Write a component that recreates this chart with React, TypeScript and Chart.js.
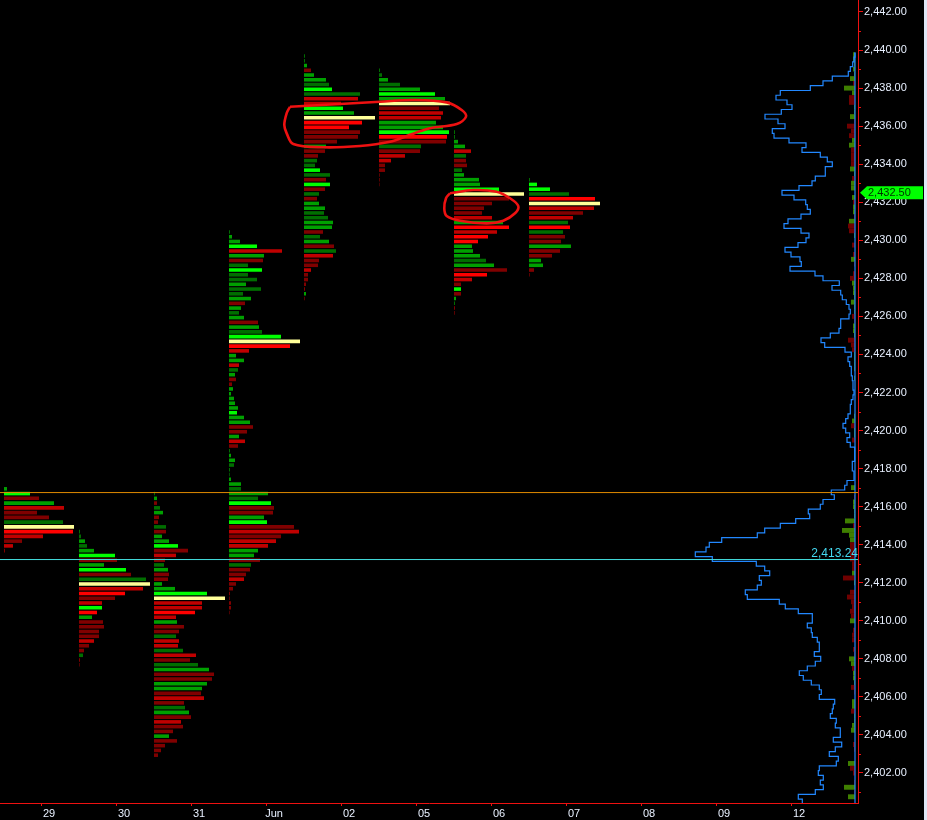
import React, { useEffect, useRef } from "react";
import { Chart, registerables } from "chart.js";

Chart.register(...registerables);

const dayLabels = ["29", "30", "31", "Jun", "02", "05", "06", "07", "08", "09", "12"];
const priceTicks = [2402, 2404, 2406, 2408, 2410, 2412, 2414, 2416, 2418, 2420, 2422, 2424, 2426, 2428, 2430, 2432, 2434, 2436, 2438, 2440, 2442];
const currentPrice = 2432.5;
const upperLevel = 2416.74;
const lowerLevel = 2413.22;
const lowerLevelLabel = "2,413.24";

// profile volumes per price row (top row first); codes: G g d = greens, R r k = reds, P = point of control
const topPrices = [2417, 2414.75, 2416.75, 2430.5, 2439.75, 2439, 2435.75, 2433.25];
const profile0 = [3, 26, 35, 50, 60, 33, 45, 59, 70, 69, 39, 18, 9, 1];
const colors0 = "gGkgrkkdPRrkrk";
const profile1 = [1, 2, 6, 8, 15, 36, 38, 25, 47, 52, 67, 71, 64, 46, 36, 23, 23, 18, 13, 24, 25, 20, 20, 15, 10, 5, 4, 1, 0.6];
const colors1 = "ddgdgGkgGkdPrRkrGRgkkkkrkkdkk";
const profile2 = [1, 3, 3, 6, 9, 5, 4, 12, 12, 8, 15, 24, 34, 22, 11, 10, 14, 15, 14, 8, 21, 53, 71, 48, 48, 41, 22, 23, 30, 25, 22, 25, 24, 29, 42, 36, 44, 55, 60, 58, 53, 48, 47, 50, 30, 31, 35, 37, 27, 29, 19, 15, 23, 11, 7, 4];
const colors2 = "dgkdgkkdkggGkrkdgkkggGPrrRrgkkdrrdrkdgkkggkrkdgkrkkgkkkk";
const profile3 = [1, 3, 11, 28, 53, 35, 34, 19, 33, 19, 28, 17, 32, 14, 22, 16, 12, 10, 15, 29, 30, 33, 52, 71, 61, 20, 7, 15, 10, 9, 6, 7, 3, 4, 2, 5, 6, 9, 8, 15, 21, 24, 18, 10, 16, 9, 1, 2, 6, 5, 1, 0.7, 2, 12, 12, 39, 29, 42, 45, 44, 35, 38, 65, 70, 52, 47, 39, 29, 25, 31, 22, 21, 17, 15, 7, 4, 1, 0.7, 2, 2, 0.6];
const colors3 = "dggGrgkdGddgddgkgdgkgdGPRrggrdgkkgggggGggkkgrkdggdddggdgdGkkgGkrkrrggkdkkrkkkkkk";
const profile4 = [1, 1, 3, 7, 10, 22, 25, 28, 56, 54, 37, 39, 50, 71, 58, 45, 56, 54, 33, 22, 21, 14, 13, 11, 16, 26, 22, 26, 21, 15, 13, 15, 21, 20, 24, 29, 28, 19, 16, 25, 30, 32, 29, 15, 14, 7, 4, 4, 2, 1, 2, 0.7];
const colors4 = "ddgkggdGdrrGgPRRkkkgkkddGdkGkdkggddggkdgkdrkkrkkkkgk";
const profile5 = [1, 3, 9, 21, 41, 56, 66, 71, 60, 64, 62, 57, 64, 70, 68, 67, 42, 41, 26, 12, 6, 6, 0.7, 0.7, 0.5];
const colors5 = "ddgdgGgPkrrggGRkdkrrkkkkk";
const profile6 = [1, 1, 4, 11, 17, 12, 12, 13, 8, 10, 25, 26, 45, 70, 55, 38, 30, 28, 38, 49, 55, 43, 34, 24, 18, 19, 26, 32, 40, 53, 33, 18, 7, 7, 7, 2, 1, 1, 0.7];
const colors6 = "ddggrdkkdgggGPkkkkrgRrRRgggdgkRrkGkgdkk";
const profile7 = [1, 8, 21, 40, 66, 71, 65, 54, 44, 39, 41, 34, 36, 32, 42, 31, 23, 12, 14, 5, 0.7];
const colors7 = "dGGdRPrkrdRdkkgkkggkk";

const profiles = [profile0, profile1, profile2, profile3, profile4, profile5, profile6, profile7];
const profileColors = [colors0, colors1, colors2, colors3, colors4, colors5, colors6, colors7];

// right-hand composite profile, one value per 0.25 price row from 2439.75 down
const compositeTop = 2439.75;
const compositeProfile = [0, 1, 2.3, 4.7, 6.7, 22.7, 32, 44.7, 74.7, 79, 68, 63, 73.7, 90, 77, 70, 82.7, 81, 66, 49, 53, 34.7, 27.7, 22.7, 29.7, 29.7, 39.7, 43, 56, 73, 61, 49.3, 47.7, 44.7, 54, 67, 71, 54, 46, 49, 57, 70, 64, 55, 53.7, 65, 40, 32,
  15.7, 23, 14.3, 12.7, 8.7, 6, 4.7, 6, 14.3, 14.3, 16, 24.7, 34, 30.3, 10, 3.7, 7, 5.3, 3.7, 3.7, 2.7, 2, 2, 1, 2, 3.7, 4.7, 4.7, 7, 9.3, 12, 9.3, 5.3, 8, 4.7, 0.3, 0.3, 0.3, 2.7, 2.7, 1, 1, 8, 10.3, 23.7, 20.7, 32, 34.7, 46.7, 45.3, 59.3, 74.7, 90.3,
  97.7, 133.3, 145.7, 149, 159.7, 142.7, 98.7, 90.3, 85.3, 95.7, 93.7, 97.7, 109.7, 107.7, 75.7, 69.7, 56.7, 42.7, 42.7, 47.7, 43.7, 42.7, 37.7, 35.7, 35.7, 40.7, 34.3, 39.7, 47.7, 55.7, 51.7, 43.7, 35.7, 33.7, 35.7, 20.3, 21.7, 22.7, 24.7, 18.7, 19.7, 14.7, 14.7, 21.7, 13.3, 19.7, 25.7, 16.7, 18.7, 35.7, 36.7, 31.7, 34.7, 31.7, 39.7, 56.7, 52.7];
// delta per row, same rows: positive green, negative red
const compositeDelta = [2, 2, 1, 2, 1, 5, -2, 11, 3, -6, -6, 1, 1, 5, -1, -8, -4, -6, 3, 6, -4, -4, -4, -4, 5, 1, -3, 4, 4, 0, 3, -2, 2, 2, -1, 6, -7, -6, 1, 0, -3, 0, -2, 4, -1, 0, -2, -5,
  3, 2, 2, 1, 4, 1, 1, -3, -1, 2, 2, 1, -7, -4, -3, 1, 1, 1, 1, 0, 1, 0, 0, 0, 0, 0, 0, 0, 1, 3, -4, 1, 1, -3, 0, 0, 0, 0, 0, 0, 0, 0, 0, 4, 0, -1, 2, 2, 1, 1, 10, -2,
  13, 6, 5, -5, -5, -5, -5, -3, -3, 3, -12, 1, 0, -5, -8, -4, -3, -5, -4, 5, 0, -2, -3, -3, 0, -2, -1, 6, 4, -3, 2, 2, 1, -4, -1, 0, 3, 3, -4, 1, 1, 3, 4, 0, 0, -2, -1, 0, 0, 7, -5, -2, 0, -1, 11, -1, 7];

// hand-drawn loops as (day, price)
const loopA = [[3.32, 2437.02], [4.52, 2437.285], [4.964, 2437.375], [5.409, 2437.25], [5.609, 2436.85], [5.667, 2436.5], [5.543, 2436.11], [5.187, 2435.89], [4.876, 2435.48], [4.653, 2435.18], [4.253, 2434.96], [3.764, 2434.89], [3.364, 2435.06], [3.276, 2435.62], [3.244, 2436.06], [3.276, 2436.68], [3.32, 2437.02]];
const loopB = [[5.453, 2432.47], [5.764, 2432.64], [6.076, 2432.55], [6.253, 2432.21], [6.364, 2431.8], [6.32, 2431.42], [6.164, 2431.03], [5.943, 2430.89], [5.587, 2431.03], [5.409, 2431.28], [5.377, 2431.68], [5.4, 2432.21], [5.453, 2432.47]];

const RED_AXIS = "#ee1111";
const AXIS_TEXT = "#e8f0ff";
const FONT = "'Liberation Sans', Arial, sans-serif";
const PALETTE: Record<string, string> = { G: "#00ff00", g: "#00a000", d: "#006e00", R: "#ff0000", r: "#c00000", k: "#800000", P: "#ffff99" };
const DAY_WIDTH = 75; // volume units per day slot
const OPEN_OFFSET = -37 / 75;
const X_MIN = -41 / 75;
const X_MAX = (858 - 41) / 75;
const ROW = 0.25;
const Y_MIN = 2442 - (803 - 12) / 19.025;
const Y_MAX = 2442 + 12 / 19.025;
const BAR_SHIFT = 1.2 / 19.025; // session bars sit slightly below their price row

export default function App() {
  const ref = useRef<HTMLCanvasElement | null>(null);
  useEffect(() => {
    document.body.style.margin = "0";
    document.body.style.background = "#dfe8f6";

    const barData: { x: [number, number]; y: number }[] = [];
    const barColors: string[] = [];
    profiles.forEach((vals, d) => {
      vals.forEach((v, i) => {
        const open = d + OPEN_OFFSET;
        barData.push({ x: [open, open + v / DAY_WIDTH], y: topPrices[d] - i * ROW });
        barColors.push(PALETTE[profileColors[d][i]] || PALETTE.k);
      });
    });
    const deltaData = compositeDelta.map((v, i) => ({ x: [0, Math.abs(v)] as [number, number], y: compositeTop - i * ROW }));
    const deltaColors = compositeDelta.map((v) => (v >= 0 ? "#3f7f00" : "#700000"));
    const outline = [{ x: 0, y: compositeTop + ROW / 2 }, ...compositeProfile.map((v, i) => ({ x: v, y: compositeTop - i * ROW - ROW / 2 }))];

    const loopSet = (pts: number[][]) => ({
      type: "line" as const,
      data: pts.map(([x, y]) => ({ x, y })),
      xAxisID: "x",
      yAxisID: "y",
      indexAxis: "y" as const,
      borderColor: "#ee1111",
      borderWidth: 2.6,
      tension: 0.35,
      pointRadius: 0,
      fill: false,
    });
    const levelSet = (price: number, color: string) => ({
      type: "line" as const,
      data: [{ x: X_MIN, y: price }, { x: X_MAX, y: price }],
      xAxisID: "x",
      yAxisID: "y",
      indexAxis: "y" as const,
      borderColor: color,
      borderWidth: 1,
      pointRadius: 0,
      fill: false,
    });

    const overlay = {
      id: "overlay",
      afterDraw(chart: any) {
        const { ctx, scales, chartArea } = chart;
        const y = scales.y;
        ctx.save();
        // half-way price ticks
        ctx.strokeStyle = RED_AXIS;
        ctx.lineWidth = 1;
        for (let p = 2401; p <= 2441; p += 2) {
          const py = Math.round(y.getPixelForValue(p)) + 0.5;
          ctx.beginPath();
          ctx.moveTo(chartArea.right, py);
          ctx.lineTo(chartArea.right + 3, py);
          ctx.stroke();
        }
        // level label
        ctx.font = `12px ${FONT}`;
        ctx.textAlign = "right";
        ctx.textBaseline = "alphabetic";
        ctx.fillStyle = "#44d8f0";
        ctx.fillText(lowerLevelLabel, chartArea.right, y.getPixelForValue(lowerLevel) - 3);
        // current price tag
        const py = y.getPixelForValue(currentPrice);
        ctx.fillStyle = "#00ff00";
        ctx.beginPath();
        ctx.moveTo(chartArea.right + 2, py);
        ctx.lineTo(chartArea.right + 9, py - 6.5);
        ctx.lineTo(923, py - 6.5);
        ctx.lineTo(923, py + 6.5);
        ctx.lineTo(chartArea.right + 9, py + 6.5);
        ctx.closePath();
        ctx.fill();
        ctx.font = `11px ${FONT}`;
        ctx.textAlign = "left";
        ctx.textBaseline = "middle";
        ctx.fillStyle = "#003300";
        ctx.fillText(currentPrice.toLocaleString("en-US", { minimumFractionDigits: 2 }), chartArea.right + 10, py + 0.5);
        ctx.restore();
      },
    };

    const chart = new Chart(ref.current as HTMLCanvasElement, {
      type: "bar",
      plugins: [overlay],
      data: {
        datasets: [
          loopSet(loopA),
          loopSet(loopB),
          levelSet(upperLevel, "#e08a00"),
          levelSet(lowerLevel, "#44dddd"),
          {
            type: "line",
            data: [{ x: 0, y: compositeTop + ROW / 2 }, { x: 0, y: 2400 }],
            xAxisID: "x2",
            yAxisID: "y",
            indexAxis: "y",
            borderColor: "#2288ff",
            borderWidth: 1.2,
            stepped: true,
            pointRadius: 0,
            fill: false,
          },
          {
            type: "line",
            data: outline,
            xAxisID: "x2",
            yAxisID: "y",
            indexAxis: "y",
            borderColor: "#2288ff",
            borderWidth: 1.2,
            stepped: true,
            pointRadius: 0,
            fill: false,
          },
          {
            type: "bar",
            data: barData,
            xAxisID: "x",
            yAxisID: "yBars",
            backgroundColor: barColors,
            grouped: false,
            barPercentage: 0.75,
            categoryPercentage: 1,
          },
          {
            type: "bar",
            data: deltaData,
            xAxisID: "x2",
            yAxisID: "y",
            backgroundColor: deltaColors,
            grouped: false,
            barPercentage: 1.03,
            categoryPercentage: 1,
          },
        ] as any,
      },
      options: {
        animation: false,
        responsive: false,
        devicePixelRatio: 1,
        indexAxis: "y",
        layout: { padding: 0 },
        plugins: { legend: { display: false }, tooltip: { enabled: false } },
        scales: {
          x: {
            type: "linear",
            position: "bottom",
            min: X_MIN,
            max: X_MAX,
            afterBuildTicks: (s: any) => {
              s.ticks = dayLabels.map((_, i) => ({ value: i }));
            },
            afterFit: (s: any) => {
              s.height = 17;
              s.paddingLeft = 0;
              s.paddingRight = 0;
            },
            border: { color: RED_AXIS, width: 1 },
            grid: { drawOnChartArea: false, color: RED_AXIS, tickColor: RED_AXIS, tickLength: 3 },
            ticks: {
              autoSkip: false,
              maxRotation: 0,
              labelOffset: 8,
              padding: 1,
              color: AXIS_TEXT,
              font: { family: FONT, size: 11 },
              callback: (_v: any, i: number) => dayLabels[i],
            },
          },
          x2: {
            type: "linear",
            display: false,
            reverse: true,
            min: -3,
            max: 855,
          },
          yBars: {
            type: "linear",
            display: false,
            offset: false,
            min: Y_MIN + BAR_SHIFT,
            max: Y_MAX + BAR_SHIFT,
          },
          y: {
            type: "linear",
            position: "right",
            offset: false,
            min: Y_MIN,
            max: Y_MAX,
            afterBuildTicks: (s: any) => {
              s.ticks = priceTicks.map((value) => ({ value }));
            },
            afterFit: (s: any) => {
              s.width = 66;
              s.paddingTop = 0;
              s.paddingBottom = 0;
            },
            border: { color: RED_AXIS, width: 1 },
            grid: { offset: false, drawOnChartArea: false, color: RED_AXIS, tickColor: RED_AXIS, tickLength: 5 },
            ticks: {
              autoSkip: false,
              padding: 1,
              color: AXIS_TEXT,
              font: { family: FONT, size: 11 },
              callback: (v: any) => Number(v).toLocaleString("en-US", { minimumFractionDigits: 2, maximumFractionDigits: 2 }),
            },
          },
        },
      } as any,
    });
    return () => chart.destroy();
  }, []);
  return (
    <div style={{ width: 927, height: 820, background: "#dfe8f6" }}>
      <canvas ref={ref} width={924} height={820} style={{ display: "block", background: "#000000" }} />
    </div>
  );
}
